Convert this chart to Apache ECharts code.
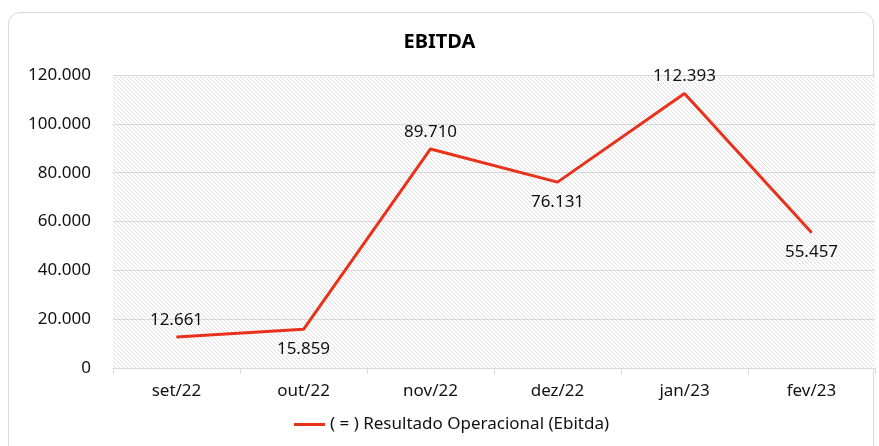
<!DOCTYPE html>
<html>
<head>
<meta charset="utf-8">
<script src="https://cdn.jsdelivr.net/npm/echarts@6/dist/echarts.min.js"></script>
<style>
html,body{margin:0;padding:0;background:#fff;}
#card{position:absolute;left:8px;top:12px;width:866px;height:460px;border:1px solid #d9d9d9;border-radius:12px;box-sizing:border-box;}
#chart{position:absolute;left:0;top:0;width:879px;height:446px;}
</style>
</head>
<body>
<div id="card"></div>
<div id="chart"></div>
<script>
const categories = ['set/22', 'out/22', 'nov/22', 'dez/22', 'jan/23', 'fev/23'];
const ebitda = [12661, 15859, 89710, 76131, 112393, 55457];
const labelAbove = [true, false, true, false, true, false];
const seriesName = '( = ) Resultado Operacional (Ebitda)';
const titleText = 'EBITDA';

function fmt(v) {
  return String(Math.round(v)).replace(/\B(?=(\d{3})+(?!\d))/g, '.');
}

const pc = document.createElement('canvas');
pc.width = 4; pc.height = 4;
const ctx = pc.getContext('2d');
ctx.fillStyle = '#ffffff';
ctx.fillRect(0, 0, 4, 4);
ctx.fillStyle = '#e0e0e0';
for (let i = 0; i < 4; i++) ctx.fillRect(i, i, 1, 1);

const font = '"Noto Sans", "Open Sans", sans-serif';
const chart = echarts.init(document.getElementById('chart'), null, {renderer: 'canvas'});
chart.setOption({
  animation: false,
  textStyle: {fontFamily: font},
  title: {
    text: titleText, left: 'center', top: 27,
    textStyle: {fontSize: 20, fontWeight: 'bold', color: '#000', fontFamily: font}
  },
  legend: {
    bottom: 8, left: 289,
    icon: 'rect', itemWidth: 31, itemHeight: 3, itemGap: 4,
    textStyle: {fontSize: 17, color: '#111', fontFamily: font},
    data: [seriesName]
  },
  grid: {
    left: 113, right: 4, top: 75, bottom: 78,
    show: true, borderWidth: 0,
    backgroundColor: {image: pc, repeat: 'repeat'}
  },
  xAxis: {
    type: 'category', data: categories, boundaryGap: true,
    axisLine: {lineStyle: {color: '#d9d9d9', width: 1}},
    axisTick: {show: true, length: 6, lineStyle: {color: '#d9d9d9'}},
    axisLabel: {fontSize: 17, color: '#111', margin: 15, fontFamily: font}
  },
  yAxis: {
    type: 'value', min: 0, max: 120000, interval: 20000,
    axisLine: {show: false}, axisTick: {show: false},
    splitLine: {lineStyle: {color: '#d9d9d9', width: 1}},
    axisLabel: {fontSize: 17, color: '#111', margin: 22, fontFamily: font, formatter: fmt}
  },
  series: [{
    name: seriesName, type: 'line', symbol: 'circle', symbolSize: 1, showSymbol: true,
    lineStyle: {color: '#e8321c', width: 3},
    itemStyle: {color: '#e8321c'},
    data: ebitda.map((v, i) => ({
      value: v,
      label: {show: true, position: labelAbove[i] ? 'top' : 'bottom', distance: labelAbove[i] ? 8 : 11}
    })),
    label: {show: true, fontSize: 17, color: '#111', fontFamily: font, formatter: p => fmt(p.value)}
  }]
});
</script>
</body>
</html>
